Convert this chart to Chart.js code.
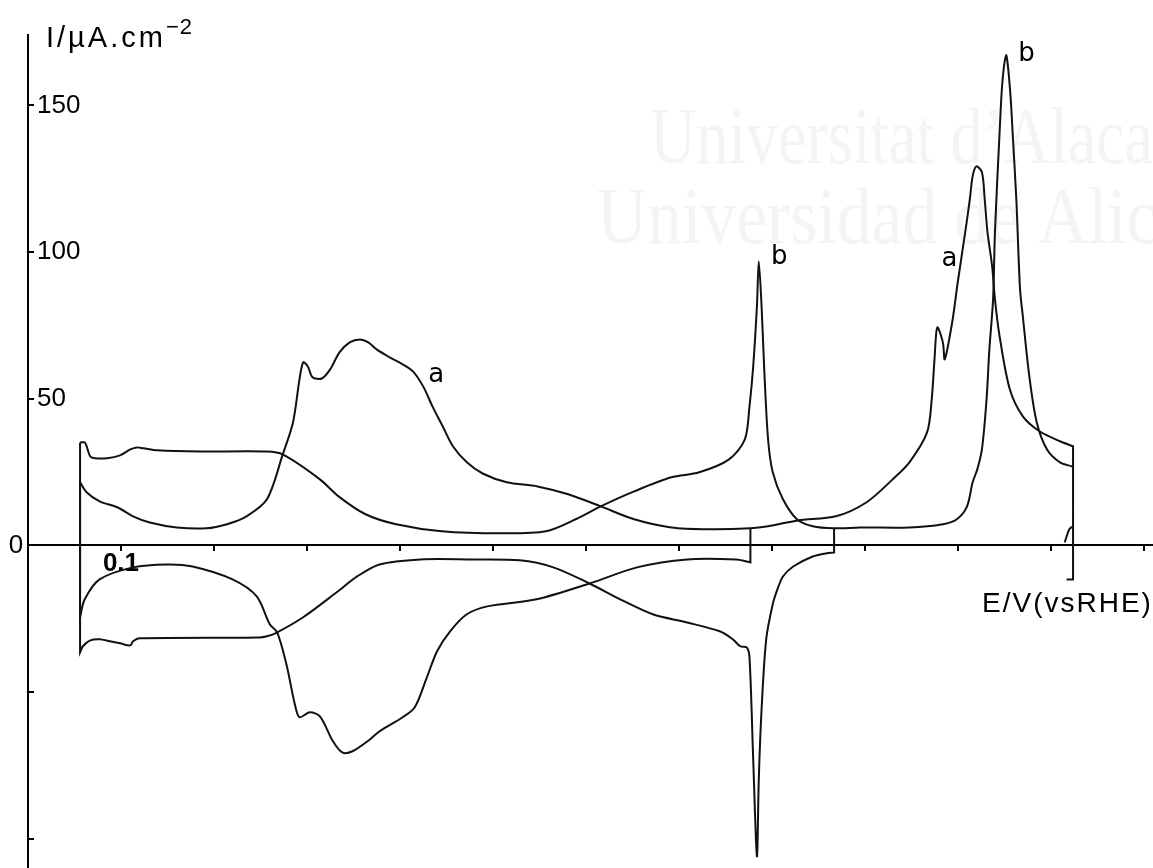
<!DOCTYPE html>
<html>
<head>
<meta charset="utf-8">
<script src="https://cdn.jsdelivr.net/npm/chart.js@4.4.1/dist/chart.umd.min.js"></script>
<style>
  body { margin: 0; background: #fff; }
  #wrap { width: 1153px; height: 868px; }
</style>
</head>
<body>
<div id="wrap"><canvas id="cv" width="1153" height="868"></canvas></div>
<script>
// E in V vs RHE, I in uA/cm2
// (corner points at the potential limits are listed twice so the line turns sharply there)

// curve a, positive-going scan up to the upper limit
const aAnodicE = [0.056,0.063,0.077,0.096,0.113,0.131,0.160,0.192,0.214,0.235,0.257,0.274,0.285,0.292,0.296,0.301,0.306,0.316,0.325,0.335,0.346,0.357,0.366,0.375,0.389,0.403,0.414,0.425,0.435,0.446,0.457,0.472,0.489,0.515,0.548,0.581,0.616,0.652,0.692,0.733,0.777,0.796,0.828,0.869,0.902,0.930,0.948,0.967,0.972,0.975,0.978,0.984,0.986,0.994,1.000,1.008,1.013,1.016,1.020,1.026,1.029,1.032,1.037,1.040,1.045,1.056,1.070,1.088,1.110,1.124,1.124,1.124,1.124,1.117];
const aAnodicI = [21.5,18.1,15.0,13.0,9.9,7.8,6.1,5.8,7.2,9.9,15.7,31.0,41.9,56.6,62.4,61.0,57.3,56.9,60.0,65.8,69.2,70.2,69.2,66.8,64.1,61.7,59.3,54.2,47.4,40.6,33.8,28.3,24.5,21.5,20.1,17.4,13.3,8.9,6.1,5.5,5.8,6.5,8.5,9.9,14.7,22.5,28.3,38.5,49.8,63.4,74.3,69.2,63.4,76.0,89.7,106.7,118.0,125.8,129.2,127.2,118.0,106.7,95.1,83.9,71.3,53.2,44.0,38.9,35.5,33.8,33.8,-11.6,-11.6,-11.6];

// curve a, negative-going scan after reversal at 0.777 V
const aCathodicE = [0.777,0.777,0.777,0.773,0.762,0.709,0.655,0.604,0.547,0.494,0.472,0.454,0.440,0.429,0.416,0.403,0.378,0.368,0.349,0.338,0.328,0.314,0.303,0.292,0.287,0.278,0.268,0.260,0.246,0.220,0.177,0.149,0.113,0.077,0.061,0.056,0.056,0.056];
const aCathodicI = [5.8,-5.8,-5.8,-5.5,-4.8,-4.8,-7.5,-13.0,-18.4,-20.8,-23.5,-29.3,-36.1,-45.0,-55.2,-58.6,-63.4,-66.1,-70.2,-70.6,-66.8,-58.3,-56.9,-58.6,-54.2,-40.6,-29.7,-26.9,-17.4,-11.6,-7.2,-6.5,-7.5,-11.6,-18.4,-24.5,-24.5,21.5];

// curve b, positive-going scan
const bAnodicE = [0.056,0.061,0.063,0.067,0.072,0.085,0.099,0.110,0.117,0.124,0.139,0.185,0.257,0.274,0.314,0.334,0.363,0.396,0.445,0.508,0.557,0.589,0.616,0.652,0.692,0.722,0.754,0.771,0.776,0.780,0.784,0.786,0.789,0.792,0.796,0.801,0.812,0.827,0.844,0.867,0.895,0.948,0.984,0.999,1.010,1.016,1.021,1.026,1.031,1.034,1.038,1.040,1.045,1.048,1.052,1.054,1.057,1.059,1.063,1.067,1.070,1.077,1.085,1.096,1.110,1.123];
const bAnodicI = [35.1,35.1,33.8,30.3,29.7,29.7,30.7,32.7,33.4,33.1,32.4,32.0,32.0,31.0,22.5,16.7,10.6,7.2,4.8,4.1,4.8,8.9,13.3,18.4,23.2,24.9,29.3,36.1,47.4,61.0,81.5,96.8,81.5,59.0,36.1,24.9,15.7,8.9,6.5,5.8,6.1,6.1,7.2,8.9,13.3,21.5,25.9,32.7,49.8,66.8,83.9,106.7,140.8,157.9,167.1,163.3,152.1,140.8,118.0,87.3,78.1,57.6,41.9,32.7,28.3,26.9];

// curve b, negative-going scan after reversal at 0.867 V
const bCathodicE = [0.867,0.867,0.867,0.859,0.844,0.823,0.812,0.806,0.801,0.794,0.789,0.786,0.784,0.780,0.776,0.773,0.766,0.758,0.744,0.709,0.672,0.637,0.604,0.565,0.529,0.475,0.422,0.378,0.354,0.332,0.296,0.266,0.257,0.249,0.120,0.113,0.110,0.099,0.088,0.077,0.067,0.059,0.056,0.056,0.056];
const bCathodicI = [5.8,-2.4,-2.4,-2.7,-3.8,-7.2,-10.6,-15.0,-20.1,-32.0,-55.9,-79.8,-106.0,-73.0,-38.2,-34.8,-34.4,-32.0,-29.3,-26.3,-23.5,-18.4,-13.0,-7.5,-5.1,-4.8,-4.8,-6.5,-10.6,-16.0,-24.5,-30.0,-31.0,-31.4,-31.7,-32.7,-34.1,-33.4,-32.7,-32.0,-32.4,-34.4,-36.5,-36.5,35.1];

// short piece near the upper limit
const stubE = [1.115,1.120,1.124];
const stubI = [1.0,5.5,6.5];

// curve labels
const labelText = ['a','b','a','b'];
const labelE = [0.439,0.808,0.991,1.074];
const labelI = [58.0,98.2,97.5,167.4];

function trace(name, es, is) {
  return {
    label: name,
    data: es.map((e, k) => ({x: e, y: is[k]})),
    showLine: true,
    borderColor: '#111',
    borderWidth: 2,
    pointRadius: 0,
    tension: 0.3,
    fill: false
  };
}

//faint scan watermark behind the curves
const watermark = {
  id: 'watermark',
  beforeDraw(chart) {
    const ctx = chart.ctx;
    ctx.save();
    ctx.fillStyle = '#f4f4f4';
    ctx.font = '80px "Liberation Serif"';
    ctx.textBaseline = 'alphabetic';
    ctx.translate(650, 163);
    ctx.scale(0.8, 1);
    ctx.fillText('Universitat d\u2019Alacant', 0, 0);
    ctx.restore();
    ctx.save();
    ctx.fillStyle = '#f4f4f4';
    ctx.font = '80px "Liberation Serif"';
    ctx.translate(597, 243);
    ctx.scale(0.87, 1);
    ctx.fillText('Universidad de Alicante', 0, 0);
    ctx.restore();
  }
};

const textLayer = {
  id: 'textLayer',
  afterDraw(chart) {
    const ctx = chart.ctx;
    const xs = chart.scales.x, ys = chart.scales.y;
    ctx.save();
    ctx.fillStyle = '#000';

    // axis titles
    ctx.textBaseline = 'alphabetic';
    ctx.textAlign = 'left';
    ctx.font = '29px "Liberation Sans"';
    ctx.letterSpacing = '3px';
    ctx.fillText('I/\u00b5A.cm', 46, 47);
    const w = ctx.measureText('I/\u00b5A.cm').width;
    ctx.font = '22px "Liberation Sans"';
    ctx.letterSpacing = '1px';
    ctx.fillText('\u22122', 46 + w, 34);

    ctx.font = '28px "Liberation Sans"';
    ctx.letterSpacing = '2px';
    ctx.fillText('E/V(vsRHE)', 982, 612);
    ctx.letterSpacing = '0px';

    // zero label left of the axis
    ctx.font = '26px "Liberation Sans"';
    ctx.textAlign = 'center';
    ctx.textBaseline = 'middle';
    ctx.fillText('0', chart.chartArea.left - 12, ys.getPixelForValue(0));

    // curve labels
    ctx.font = '26px "DejaVu Sans"';
    labelText.forEach((t, k) => {
      ctx.fillText(t, xs.getPixelForValue(labelE[k]), ys.getPixelForValue(labelI[k]));
    });
    ctx.restore();
  }
};

new Chart(document.getElementById('cv'), {
  type: 'scatter',
  data: {
    datasets: [
      trace('a anodic', aAnodicE, aAnodicI),
      trace('a cathodic', aCathodicE, aCathodicI),
      trace('b anodic', bAnodicE, bAnodicI),
      trace('b cathodic', bCathodicE, bCathodicI),
      trace('stub', stubE, stubI)
    ]
  },
  options: {
    responsive: false,
    animation: false,
    devicePixelRatio: 1,
    layout: { padding: { top: 35, left: 0, right: 0, bottom: 0 } },
    plugins: { legend: { display: false }, tooltip: { enabled: false } },
    scales: {
      x: {
        type: 'linear',
        min: 0,
        max: 1.21,
        position: { y: 0 },
        afterFit: s => { s.paddingLeft = 0; s.paddingRight = 0; },
        border: { display: true, color: '#000', width: 2 },
        grid: { drawOnChartArea: false, color: '#000', lineWidth: 2, tickLength: 5 },
        ticks: {
          stepSize: 0.1,
          autoSkip: false,
          includeBounds: false,
          maxRotation: 0,
          padding: -2,
          color: '#000',
          font: { family: 'Liberation Sans', size: 26, weight: 'bold' },
          callback: v => Math.abs(v - 0.1) < 1e-6 ? '0.1' : ''
        }
      },
      y: {
        type: 'linear',
        min: -110,
        max: 174,
        position: 'left',
        afterFit: s => { s.width = 28; s.paddingTop = 0; s.paddingBottom = 0; },
        border: { display: true, color: '#000', width: 2 },
        grid: { drawOnChartArea: false, color: '#000', lineWidth: 2, tickLength: -6 },
        ticks: {
          stepSize: 50,
          includeBounds: false,
          mirror: true,
          padding: 9,
          color: '#000',
          font: { family: 'Liberation Sans', size: 26 },
          callback: v => v > 0 ? String(v) : ''
        }
      }
    }
  },
  plugins: [watermark, textLayer]
});
</script>
</body>
</html>
